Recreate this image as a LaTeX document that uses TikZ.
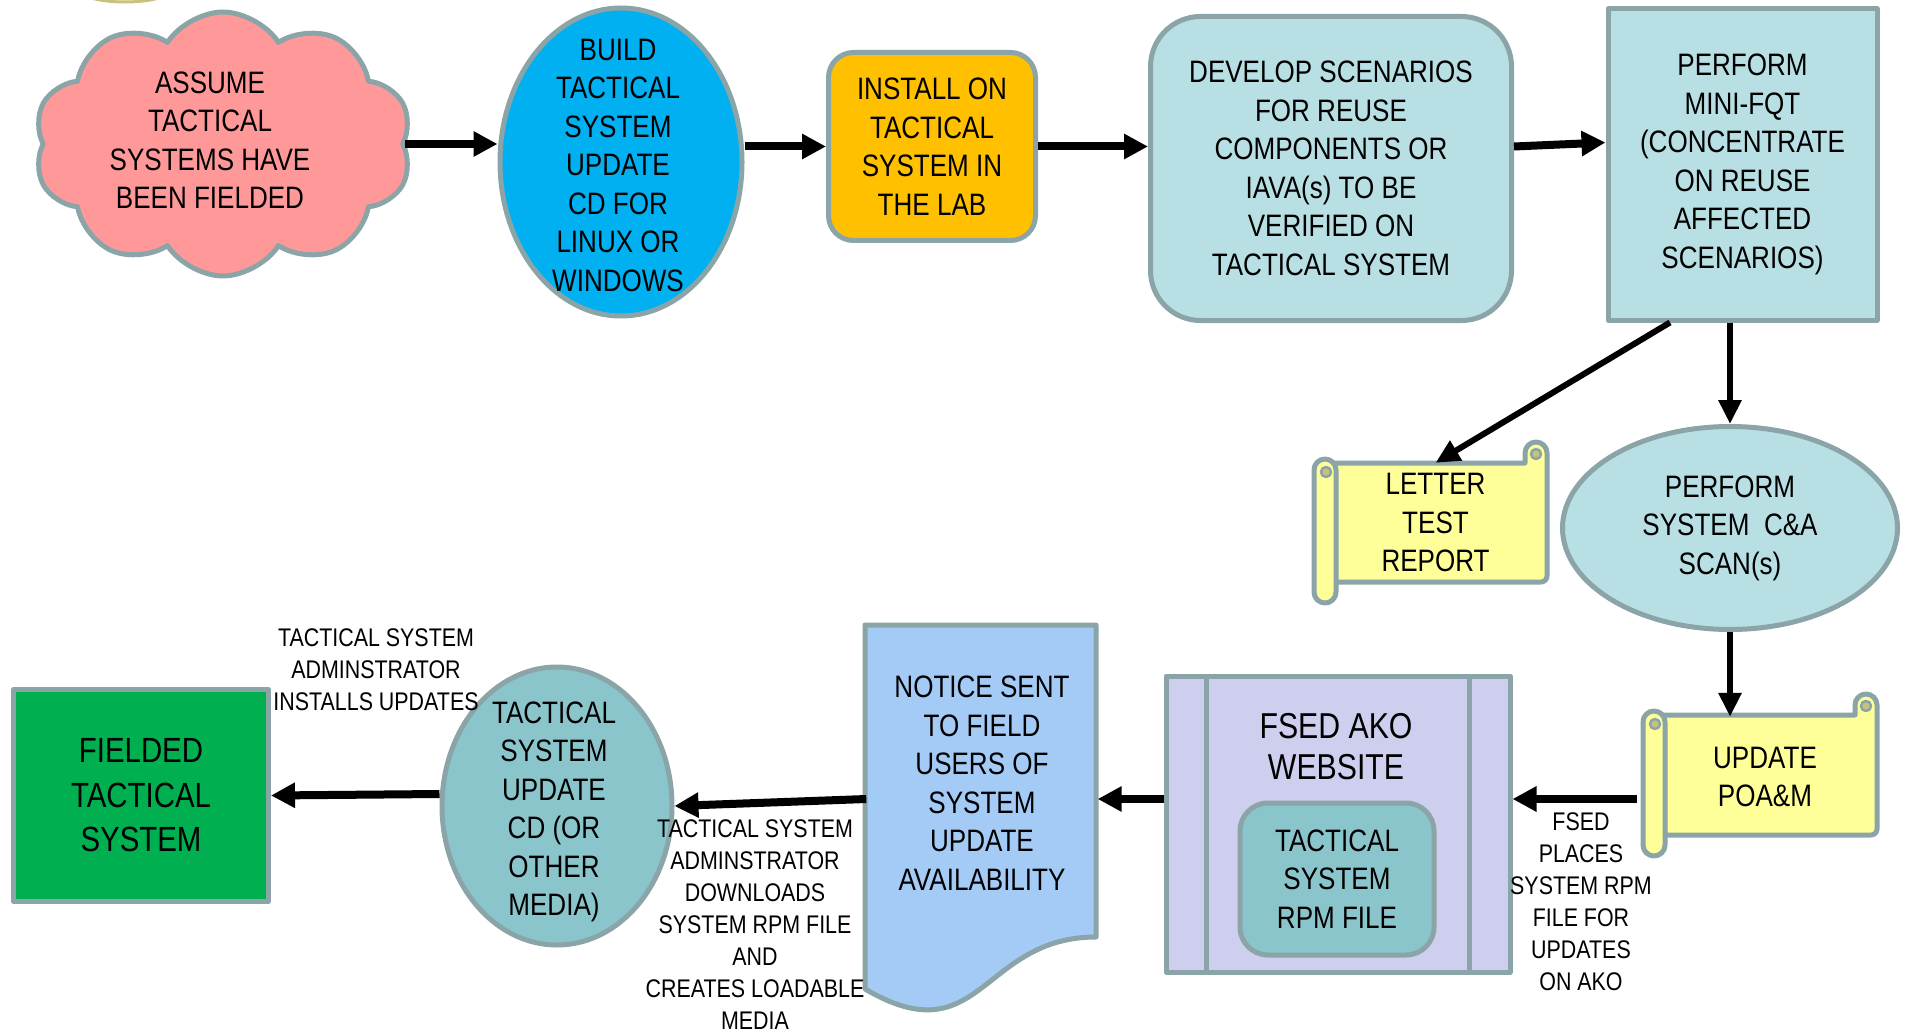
\documentclass[tikz,border=0pt]{standalone}
\usepackage{fontspec}
\setmainfont[FakeStretch=0.84]{Liberation Sans}
\usetikzlibrary{shapes.geometric, shapes.symbols, arrows.meta, calc}

\definecolor{edgegray}{HTML}{8AA4A8}
\definecolor{cloudpink}{HTML}{FF9999}
\definecolor{buildblue}{HTML}{00B0F0}
\definecolor{labyellow}{HTML}{FFC000}
\definecolor{paleteal}{HTML}{B8DFE3}
\definecolor{darkteal}{HTML}{8BC5CC}
\definecolor{scrollyellow}{HTML}{FFFF99}
\definecolor{curlolive}{HTML}{C9C27A}
\definecolor{fieldgreen}{HTML}{00B050}
\definecolor{noticeblue}{HTML}{A4CBF6}
\definecolor{lavender}{HTML}{CECEEE}

\begin{document}
\begin{tikzpicture}[x=1pt, y=-1pt, line join=round,
  shape line/.style={draw=edgegray, line width=5pt},
  txt/.style={align=center, inner sep=0pt, font=\fontsize{31}{38.5}\selectfont},
  bigtxt/.style={align=center, inner sep=0pt, font=\fontsize{36}{41}\selectfont},
  note/.style={align=center, inner sep=0pt, font=\fontsize{25.5}{32}\selectfont},
  flow/.style={line width=8pt, -{Triangle[length=24pt, width=24pt]}},
  flow thin/.style={line width=6pt, -{Triangle[length=24pt, width=22pt]}}]

  \useasboundingbox (0,0) rectangle (1908,1032);

  % Edge of a shape cut off at the top
  \draw [line width=3pt, draw=curlolive, fill=scrollyellow!40] (125,-18) ellipse [x radius=57pt, y radius=20pt];

  % Top row
  \node [cloud, cloud puffs=10, cloud puff arc=115, cloud ignores aspect,
    minimum width=378, minimum height=264, shape line, fill=cloudpink] (assume) at (223,144) {};
  \node [txt] (assume text) at (210,140) {ASSUME\\TACTICAL\\SYSTEMS HAVE\\BEEN FIELDED};

  \node [ellipse, inner sep=0pt, minimum width=242, minimum height=308, shape line, fill=buildblue] (build) at (621,162) {};
  \node [txt] (build text) at (618,165) {BUILD\\TACTICAL\\SYSTEM\\UPDATE\\CD FOR\\LINUX OR\\WINDOWS};

  \node [txt, rounded corners=25pt, minimum width=207, minimum height=188, shape line, fill=labyellow] (install) at (932,146.5)
    {INSTALL ON\\TACTICAL\\SYSTEM IN\\THE LAB};

  \node [txt, rounded corners=50pt, minimum width=361, minimum height=304, shape line, fill=paleteal] (develop) at (1331,168.5)
    {DEVELOP SCENARIOS\\FOR REUSE\\COMPONENTS OR\\IAVA(s) TO BE\\VERIFIED ON\\TACTICAL SYSTEM};

  \node [txt, minimum width=269, minimum height=311, shape line, fill=paleteal] (minifqt) at (1742.5,164.5)
    {PERFORM\\MINI-FQT\\(CONCENTRATE\\ON REUSE\\AFFECTED\\SCENARIOS)};

  % Draw scrolls
  \foreach \x/\y/\w/\h in {1336/463/211/119, 1665/715/212/120}{
    \draw [shape line, fill=scrollyellow]
    (\x-11,\y) --
    (\x+\w-22,\y) --
    (\x+\w-22,\y-10) arc [start angle=180, end angle=0, radius=11pt]
    [rounded corners=6pt] --
    (\x+\w,\y+\h) --
    (\x-11,\y+\h) [sharp corners] --
    cycle;
    \draw [line width=2.5pt, draw=edgegray, fill=curlolive] (\x+\w-11,\y-9) circle [radius=5pt];
    \draw [shape line, fill=scrollyellow]
    (\x-22,\y+7) arc [start angle=180, end angle=0, radius=11pt] --
    (\x,\y+\h+10) arc [start angle=0, end angle=-180, radius=11pt] --
    cycle;
    \draw [line width=2.5pt, draw=edgegray, fill=curlolive] (\x-10,\y+9) circle [radius=5pt];
  }

  \node [txt, minimum width=211, minimum height=119] (letter) at (1435.5,522.5) {LETTER\\TEST\\REPORT};

  \node [ellipse, inner sep=0pt, minimum width=335, minimum height=203, shape line, fill=paleteal] (cna) at (1730,528) {};
  \node [txt] (cna text) at (1730,528) {PERFORM\\SYSTEM\ \ C\&A\\SCAN(s)};

  % Bottom row
  \node [font=\fontsize{31}{38}\selectfont, align=center, inner sep=0pt, minimum width=212, minimum height=120] (poam) at (1765,777) {UPDATE\\POA\&M};

  \node [minimum width=344, minimum height=296, shape line, fill=lavender] (fsed) at (1338,824) {};
  \draw [shape line] ([xshift=43pt]fsed.north west) -- ([xshift=43pt]fsed.south west);
  \draw [shape line] ([xshift=-43pt]fsed.north east) -- ([xshift=-43pt]fsed.south east);
  \node [bigtxt] (fsed text) at (1336,747) {FSED AKO\\WEBSITE};
  \node [txt, rounded corners=28pt, minimum width=194, minimum height=152, shape line, fill=darkteal] (rpmfile) at (1337,879)
    {TACTICAL\\SYSTEM\\RPM FILE};

  \draw [shape line, fill=noticeblue]
  (865,625) --
  (1096,625) --
  (1096,937) .. controls (981,937) and (981,1057) .. (865,989) --
  cycle;
  \node [txt, minimum width=231, minimum height=312] (notice) at (982,783)
    {NOTICE SENT\\TO FIELD\\USERS OF\\SYSTEM\\UPDATE\\AVAILABILITY};

  \node [ellipse, inner sep=0pt, minimum width=230, minimum height=278, shape line, fill=darkteal] (cd) at (557,806) {};
  \node [txt] (cd text) at (554,812) {TACTICAL\\SYSTEM\\UPDATE\\CD (OR\\OTHER\\MEDIA)};

  \node [txt, font=\fontsize{35}{44.5}\selectfont, minimum width=255, minimum height=212, shape line, fill=fieldgreen] (fielded) at (141,795.5)
    {FIELDED\\TACTICAL\\SYSTEM};

  % Arrows
  \coordinate (row) at (0,799);
  \draw [flow] (assume.east) -- (build.west |- assume.east);
  \draw [flow] (build.east |- install.west) -- (install.west);
  \draw [flow] (install.east) -- (develop.west |- install.east);
  \draw [flow] ([yshift=22pt]develop.east) -- ([yshift=22pt]minifqt.west);
  \draw [flow thin] ([xshift=-72.5pt]minifqt.south) -- (letter.north);
  \draw [flow thin] (cna.north |- minifqt.south) -- (cna.north);
  \draw [flow thin] (cna.south) -- (cna.south |- poam.north);
  \draw [flow] ($(poam.west |- row)+(-22,0)$) -- (fsed.east |- row);
  \draw [flow] (fsed.west |- row) -- (notice.east |- row);
  \draw [flow] (notice.west |- row) -- (cd.east);
  \draw [flow] ([yshift=12pt]cd.west) -- (fielded.east);

  % Arrow notes
  \node [note] (installs note) at (376,670) {TACTICAL SYSTEM\\ADMINSTRATOR\\INSTALLS UPDATES};
  \node [note] (downloads note) at (755,925)
    {TACTICAL SYSTEM\\ADMINSTRATOR\\DOWNLOADS\\SYSTEM RPM FILE\\AND\\CREATES LOADABLE\\MEDIA};
  \node [note] (places note) at (1581,902) {FSED\\PLACES\\SYSTEM RPM\\FILE FOR\\UPDATES\\ON AKO};

\end{tikzpicture}
\end{document}
